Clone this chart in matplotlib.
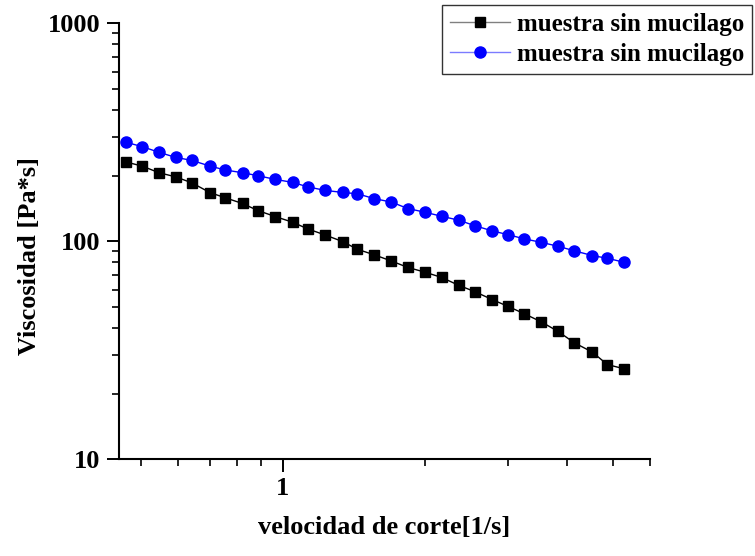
import numpy as np
import matplotlib.pyplot as plt
from matplotlib.ticker import LogLocator, FixedLocator, NullFormatter, FixedFormatter

# shear rate sweep [1/s]
shear_rate = [0.466, 0.504, 0.547, 0.593, 0.642, 0.701, 0.756, 0.822, 0.886, 0.965,
              1.05, 1.13, 1.23, 1.34, 1.44, 1.56, 1.70, 1.84, 2.00, 2.17,
              2.36, 2.55, 2.78, 3.00, 3.25, 3.53, 3.83, 4.15, 4.53, 4.87, 5.29]

# viscosity [Pa*s]
visc_black = [231.1, 221.3, 206.4, 197.6, 185.5, 167.4, 158.3, 149.1, 138.4, 129.8,
              122.3, 114.0, 106.9, 99.7, 91.9, 86.8, 81.2, 75.9, 72.2, 68.3,
              62.8, 58.8, 54.0, 50.3, 46.5, 42.7, 38.6, 34.2, 31.0, 27.2, 26.0]
visc_blue = [284.5, 271.9, 256.0, 242.8, 235.0, 221.5, 212.3, 206.4, 200.0, 192.3,
             186.3, 177.8, 171.2, 167.6, 165.2, 157.1, 151.3, 141.4, 136.0, 130.3,
             125.0, 118.0, 111.6, 107.3, 102.6, 98.9, 94.9, 90.4, 86.0, 83.6, 80.1]

series_labels = ['muestra sin mucilago', 'muestra sin mucilago']

plt.rcParams['font.family'] = ['Liberation Serif', 'DejaVu Serif']
plt.rcParams['font.weight'] = 'bold'

fig = plt.figure(figsize=(7.55, 5.56), dpi=100)
ax = fig.add_axes([0.157, 0.174, 0.704, 0.784])

ax.plot(shear_rate, visc_black, color='black', lw=1.0, marker='s', ms=7,
        label=series_labels[0])
ax.plot(shear_rate, visc_blue, color='blue', lw=1.0, marker='o', ms=8,
        label=series_labels[1])

ax.set_xscale('log')
ax.set_yscale('log')
ax.set_xlim(0.449, 6.0)
ax.set_ylim(10, 1000)

for side in ('top', 'right'):
    ax.spines[side].set_visible(False)
for side in ('left', 'bottom'):
    ax.spines[side].set_linewidth(1.5)

ax.xaxis.set_major_locator(FixedLocator([1]))
ax.xaxis.set_major_formatter(FixedFormatter(['1']))
ax.xaxis.set_minor_locator(FixedLocator([0.5, 0.6, 0.7, 0.8, 0.9, 2, 3, 4, 5, 6]))
ax.xaxis.set_minor_formatter(NullFormatter())
ax.yaxis.set_major_locator(FixedLocator([10, 100, 1000]))
ax.yaxis.set_major_formatter(FixedFormatter(['10', '100', '1000']))
ax.yaxis.set_minor_locator(LogLocator(base=10, subs=np.arange(2, 10)))
ax.yaxis.set_minor_formatter(NullFormatter())

ax.tick_params(which='major', direction='out', length=9, width=1.4, labelsize=19, pad=4)
ax.tick_params(which='minor', direction='out', length=5, width=1.2)

ax.set_xlabel('velocidad de corte[1/s]', fontsize=19, fontweight='bold', labelpad=11)
ax.set_ylabel('Viscosidad [Pa*s]', fontsize=19, fontweight='bold')
ax.yaxis.set_label_coords(-0.145, 0.466)

leg = ax.legend(loc='upper right', bbox_to_anchor=(1.192, 1.042), fontsize=18,
                frameon=True, fancybox=False, edgecolor='black', borderpad=0.3,
                labelspacing=0.3, handlelength=2.4, handletextpad=0.3, borderaxespad=0)
leg.get_frame().set_linewidth(1.0)
for t in leg.get_texts():
    t.set_fontweight('bold')
# lighter connecting line in the legend keys, solid markers
for line, col, light in zip(leg.get_lines(), ['black', 'blue'], ['#808080', '#7b7bff']):
    line.set_color(light)
    line.set_markerfacecolor(col)
    line.set_markeredgecolor(col)

fig.savefig('out.png', dpi=100)
